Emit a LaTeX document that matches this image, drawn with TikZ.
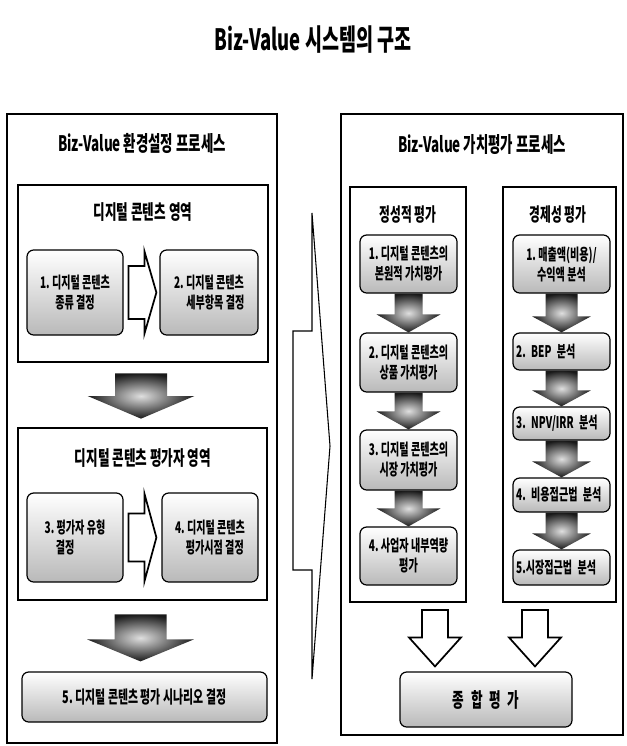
\documentclass[tikz,border=0pt]{standalone}
\usepackage{fontspec}
\newfontfamily\kr{Noto Sans CJK KR}[FakeStretch=0.63]
\usetikzlibrary{calc}
\frenchspacing
% down-pointing block arrow: style, from, to, shaft half, head half, head length
\newcommand\downblock[6]{%
  \path[#1] let \p1=(#2), \p2=(#3) in
    ({\x1-#4},\y1) -- ({\x1+#4},\y1) -- ({\x1+#4},{\y2+#6}) -- ({\x1+#5},{\y2+#6})
    -- (\x1,\y2) -- ({\x1-#5},{\y2+#6}) -- ({\x1-#4},{\y2+#6}) -- cycle;}
% right-pointing block arrow: style, from, to, shaft half, head half, head length
\newcommand\rightblock[6]{%
  \path[#1] let \p1=(#2), \p2=(#3) in
    (\x1,{\y1+#4}) -- ({\x2-#6},{\y1+#4}) -- ({\x2-#6},{\y1+#5}) -- (\x2,\y1)
    -- ({\x2-#6},{\y1-#5}) -- ({\x2-#6},{\y1-#4}) -- (\x1,{\y1-#4}) -- cycle;}
\begin{document}
\begin{tikzpicture}[x=0.75pt,y=-0.75pt,
  font=\kr\bfseries\frenchspacing,
  sz/.style 2 args={minimum width=#1*0.75pt, minimum height=#2*0.75pt, inner sep=0pt},
  outerbox/.style={draw, line width=1.3pt},
  areabox/.style={draw, line width=2pt, fill=white},
  colbox/.style={draw, line width=1.8pt, fill=white},
  stepbox/.style={draw, line width=0.9pt, rounded corners=5pt, top color=white, bottom color=gray!55, align=center, font=\kr\bfseries\frenchspacing\fontsize{12}{15}\selectfont},
  stepR/.style={stepbox, font=\kr\bfseries\frenchspacing\fontsize{12}{15}\selectfont},
  stepE/.style={stepR, align=left, text width=68pt},
  grayarr/.style={shade, inner color=gray!25, outer color=black!90},
  hollowarr/.style={draw, fill=white, line width=1.3pt, line join=miter},
  bigarr/.style={draw, fill=white, line width=0.8pt, line join=miter},
  ttl/.style={font=\kr\bfseries\fontsize{22}{25}\selectfont},
  ptitle/.style={font=\kr\bfseries\fontsize{16}{19}\selectfont},
  atitle/.style={font=\kr\bfseries\fontsize{15}{18}\selectfont},
  ctitle/.style={font=\kr\bfseries\fontsize{14}{17}\selectfont}
]
\useasboundingbox (0,0) rectangle (626,746);
\fill[white] (0,0) rectangle (626,746);

\node[ttl] (title) at (313,40) {Biz-Value 시스템의 구조};

% ---------------- left panel ----------------
\node[outerbox, sz={270}{629}] (outerL) at (142,428.5) {};
\node[ptitle] (titleL) at (142,143) {Biz-Value 환경설정 프로세스};

\node[areabox, sz={250}{177}] (area1) at (143,273.5) {};
\node[atitle] (area1t) at (143,212) {디지털 콘텐츠 영역};
\node[stepbox, sz={96}{85}] (s1) at (75,292.5) {1. 디지털 콘텐츠\\종류 결정};
\node[stepbox, sz={98}{85}] (s2) at (209,292.5) {2. 디지털 콘텐츠\\\hspace*{0.8em}세부항목 결정};
\rightblock{hollowarr}{$(s1.east)+(5,0)$}{$(s2.west)+(-3,0)$}{19.9pt}{31pt}{9pt}

\node[areabox, sz={249}{172}] (area2) at (142.5,514) {};
\node[atitle] (area2t) at (143,458) {디지털 콘텐츠 평가자 영역};
\node[stepbox, align=left, sz={96}{89}] (s3) at (75,537.5) {3. 평가자 유형\\\hspace*{0.7em}결정};
\node[stepbox, sz={96}{89}] (s4) at (210,537.5) {4. 디지털 콘텐츠\\\hspace*{0.6em}평가시점 결정};
\rightblock{hollowarr}{$(s3.east)+(5,0)$}{$(s4.west)+(-5,0)$}{18pt}{33pt}{9pt}

\node[stepbox, sz={245}{50}, font=\kr\bfseries\frenchspacing\fontsize{13}{15}\selectfont] (s5) at (144.5,697) {5. 디지털 콘텐츠 평가 시나리오 결정};

\downblock{grayarr}{$(area1.south)+(-2,10)$}{$(area2.north)+(-2,-8)$}{19.5pt}{40pt}{17pt}
\downblock{grayarr}{$(area2.south)+(-2,13)$}{$(s5.north)+(-2,-10)$}{19.5pt}{40pt}{16.5pt}

% ---------------- big arrow between panels ----------------
\draw[bigarr] (293,331) -- (312,331) -- (312,213) -- (330,446) -- (312,679) -- (312,570) -- (293,570) -- cycle;

% ---------------- right panel ----------------
\node[outerbox, sz={282}{621}] (outerR) at (482,424.5) {};
\node[ptitle] (titleR) at (482,145) {Biz-Value 가치평가 프로세스};

\node[colbox, sz={116}{415}] (qbox) at (408,394.5) {};
\node[colbox, sz={113}{415}] (ebox) at (559.5,394.5) {};
\node[ctitle] (qt) at (408,215) {정성적 평가};
\node[ctitle] (et) at (558,215) {경제성 평가};

\node[stepR, sz={97}{58}] (q1) at (408.5,264) {1. 디지털 콘텐츠의\\본원적 가치평가};
\node[stepR, sz={97}{59}] (q2) at (408.5,362.5) {2. 디지털 콘텐츠의\\상품 가치평가};
\node[stepR, sz={97}{60}] (q3) at (408.5,460) {3. 디지털 콘텐츠의\\시장 가치평가};
\node[stepR, sz={97}{58}] (q4) at (408.5,556) {4. 사업자 내부역량\\평가};

\node[stepR, sz={97}{58}] (e1) at (561.5,264) {1. 매출액(비용)/\\수익액 분석};
\node[stepE, sz={97}{37}] (e2) at (561.5,351.5) {2. BEP 분석};
\node[stepE, sz={97}{33}] (e3) at (561.5,423.5) {3. NPV/IRR 분석};
\node[stepE, sz={97}{34}] (e4) at (561.5,495) {4. 비용접근법 분석};
\node[stepE, sz={97}{35}] (e5) at (561.5,567.5) {5.시장접근법 분석};

\node[stepbox, sz={172}{55}, font=\kr\bfseries\fontsize{15}{17}\selectfont] (total) at (486,699.5) {종\,\,합\,\,평\,\,가};

\coordinate (wa1) at (435,610);
\coordinate (wa2) at (535,610);
\downblock{hollowarr}{wa1}{$(wa1|-total.north)+(0,-5)$}{9.8pt}{19.5pt}{21.7pt}
\downblock{hollowarr}{wa2}{$(wa2|-total.north)+(0,-5)$}{9.8pt}{19.5pt}{21.7pt}

% gray arrows between step boxes
\downblock{grayarr}{q1.south}{q2.north}{10.5pt}{24pt}{13.5pt}
\downblock{grayarr}{q2.south}{q3.north}{10.5pt}{24pt}{13.5pt}
\downblock{grayarr}{q3.south}{q4.north}{10.5pt}{24pt}{13.5pt}
\downblock{grayarr}{e1.south}{e2.north}{12pt}{22pt}{12pt}
\downblock{grayarr}{e2.south}{e3.north}{12pt}{22pt}{12pt}
\downblock{grayarr}{e3.south}{e4.north}{12pt}{22pt}{12pt}
\downblock{grayarr}{e4.south}{e5.north}{12pt}{22pt}{12pt}
\end{tikzpicture}
\end{document}
